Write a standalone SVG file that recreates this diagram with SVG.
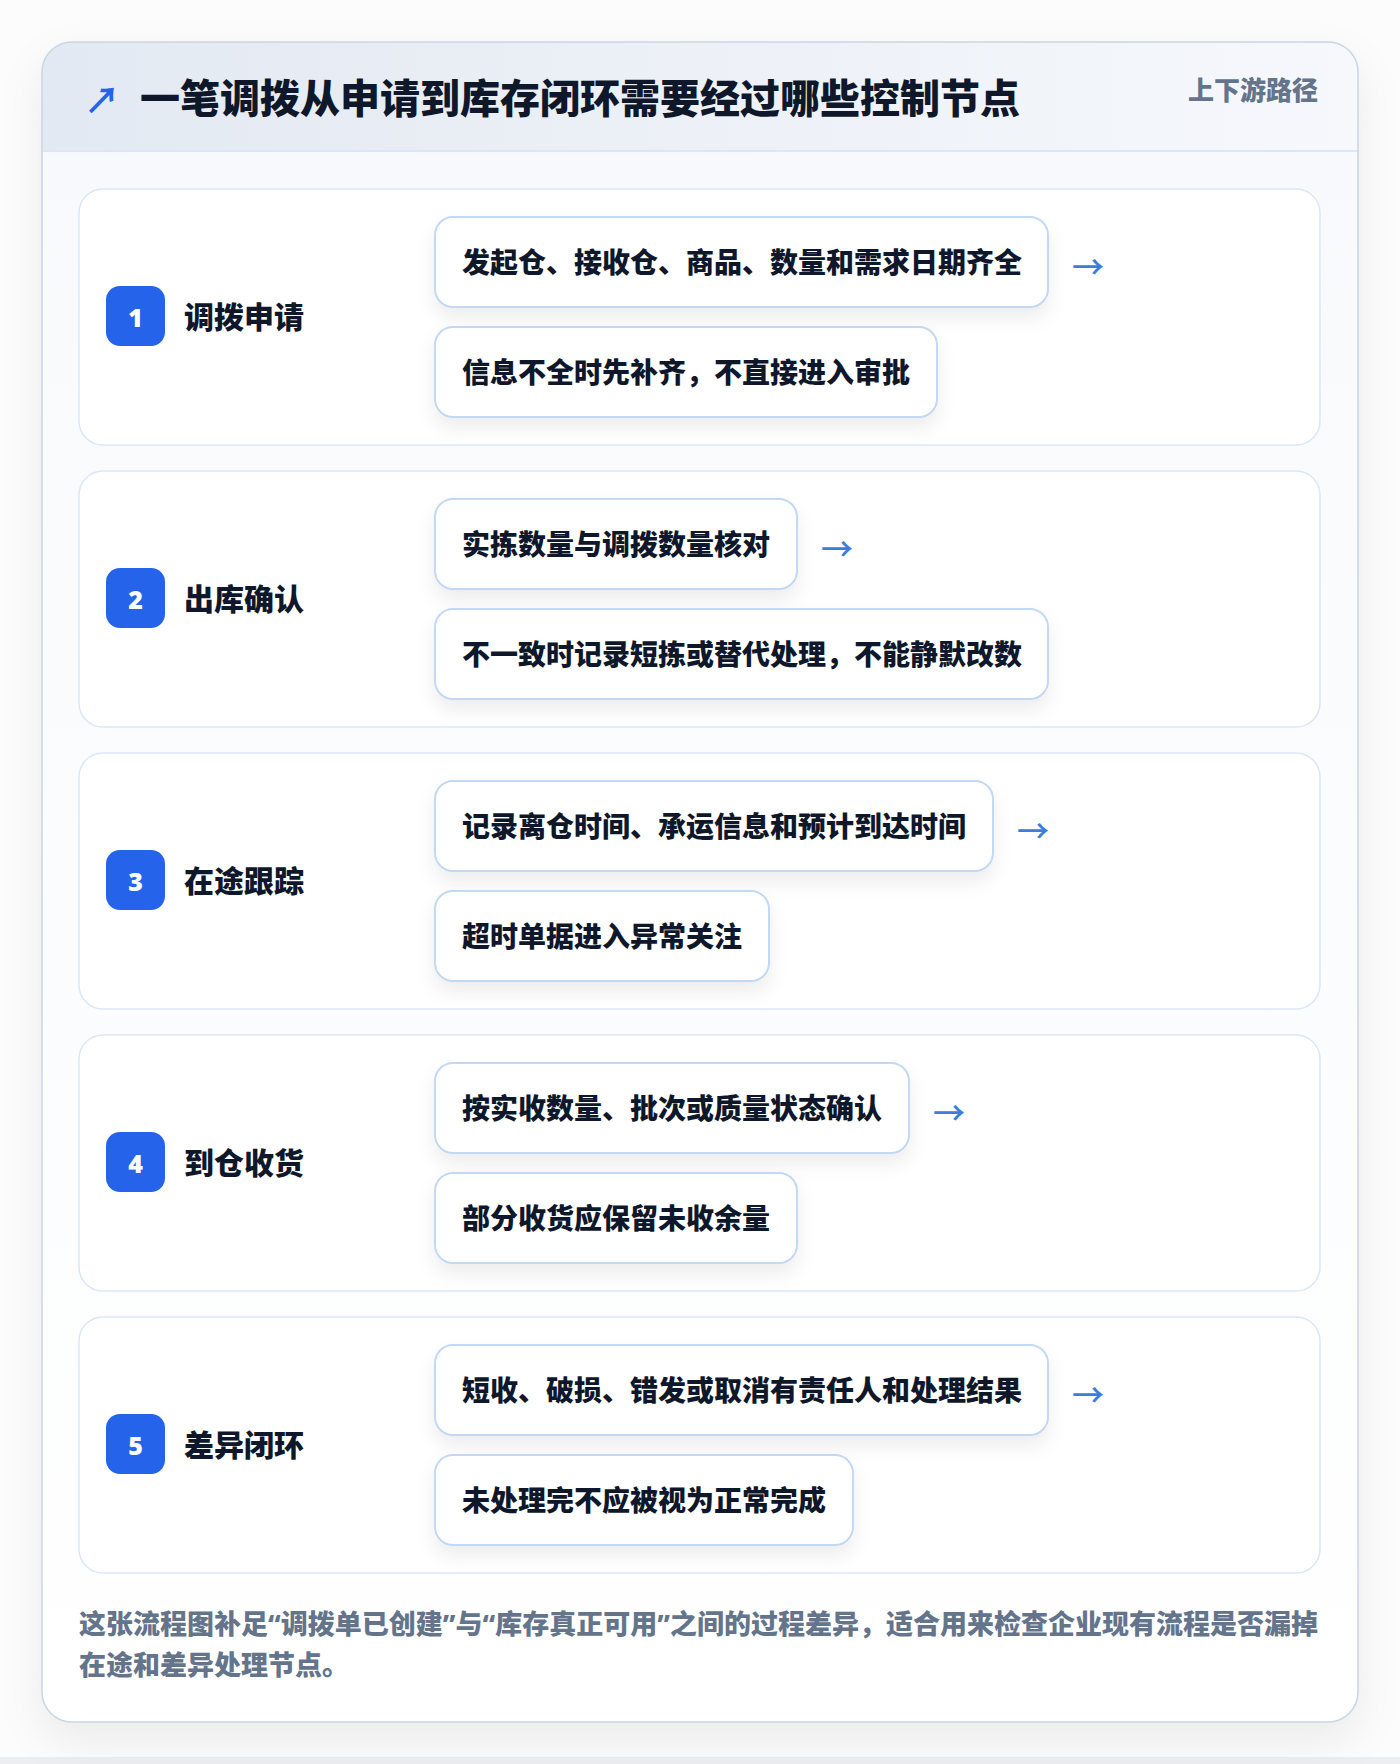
<svg xmlns="http://www.w3.org/2000/svg" width="1400" height="1764" viewBox="0 0 1400 1764">
<defs>
<linearGradient id="hdr" x1="0" y1="0" x2="1" y2="0">
<stop offset="0" stop-color="#e3e9f2"/>
<stop offset="1" stop-color="#f6f8fc"/>
</linearGradient>
<linearGradient id="body" x1="0" y1="0" x2="0" y2="1">
<stop offset="0" stop-color="#f7f9fc"/>
<stop offset="1" stop-color="#ffffff"/>
</linearGradient>
<filter id="cardShadow" x="-10%" y="-10%" width="120%" height="120%">
<feDropShadow dx="0" dy="18" stdDeviation="22" flood-color="#0f172a" flood-opacity="0.07"/>
</filter>
<filter id="subShadow" x="-10%" y="-30%" width="120%" height="170%">
<feDropShadow dx="0" dy="10" stdDeviation="9" flood-color="#0f172a" flood-opacity="0.07"/>
</filter>
<clipPath id="cardClip"><rect x="42" y="42" width="1316" height="1680" rx="30"/></clipPath>
<style>
.cjk{font-family:"Noto Sans CJK SC","Noto Sans",sans-serif;}
.title{font-size:40px;font-weight:900;fill:#0f172a;}
.tag{font-size:26px;font-weight:800;fill:#64748b;}
.step{fill:#ffffff;stroke:#dbe7f6;stroke-width:1.5;}
.badge{fill:#2563eb;}
.num{font-family:"Noto Sans","DejaVu Sans",sans-serif;font-size:25px;font-weight:900;fill:#ffffff;}
.label{font-size:30px;font-weight:800;fill:#0f172a;}
.sub{fill:#ffffff;stroke:#c2d8f4;stroke-width:2;}
.subtxt{font-size:28px;font-weight:800;fill:#0f172a;}
.arrow{font-family:"Noto Sans CJK SC",sans-serif;font-size:32px;font-weight:500;fill:#3b7ddd;}
.foot{font-family:"Noto Sans","Noto Sans CJK SC",sans-serif;font-size:27px;font-weight:800;fill:#64748b;}
</style>
</defs>
<rect x="0" y="0" width="1400" height="1764" fill="#fcfcfd"/>
<rect x="0" y="1757" width="1400" height="7" fill="#eceef1"/>
<g id="card">
<rect x="42" y="42" width="1316" height="1680" rx="30" fill="url(#body)" filter="url(#cardShadow)"/>
<g clip-path="url(#cardClip)">
<rect x="42" y="42" width="1316" height="109" fill="url(#hdr)"/>
<line x1="42" y1="151" x2="1358" y2="151" stroke="#dbe7f7" stroke-width="2"/>
</g>
<rect x="42" y="42" width="1316" height="1680" rx="30" fill="none" stroke="#cbd5e1" stroke-width="1.5"/>
</g>
<g id="header">
<text x="84" y="114" font-family="Noto Sans CJK SC,sans-serif" font-size="36" font-weight="700" fill="#2563eb">↗</text>
<text x="140" y="113" class="cjk title">一笔调拨从申请到库存闭环需要经过哪些控制节点</text>
<text x="1318" y="100" text-anchor="end" class="cjk tag">上下游路径</text>
</g>
<g id="step1">
<rect class="step" x="79" y="189" width="1241" height="256" rx="24"/>
<rect class="badge" x="106" y="286" width="59" height="60" rx="14"/>
<text class="num" x="135.5" y="327" text-anchor="middle">1</text>
<text class="cjk label" x="184" y="328">调拨申请</text>
<rect class="sub" x="435" y="217" width="613" height="90" rx="18" filter="url(#subShadow)"/>
<text class="cjk subtxt" x="462" y="273">发起仓、接收仓、商品、数量和需求日期齐全</text>
<text class="arrow" x="1072" y="279">→</text>
<rect class="sub" x="435" y="327" width="502" height="90" rx="18" filter="url(#subShadow)"/>
<text class="cjk subtxt" x="462" y="383">信息不全时先补齐，不直接进入审批</text>
</g>
<g id="step2">
<rect class="step" x="79" y="471" width="1241" height="256" rx="24"/>
<rect class="badge" x="106" y="568" width="59" height="60" rx="14"/>
<text class="num" x="135.5" y="609" text-anchor="middle">2</text>
<text class="cjk label" x="184" y="610">出库确认</text>
<rect class="sub" x="435" y="499" width="362" height="90" rx="18" filter="url(#subShadow)"/>
<text class="cjk subtxt" x="462" y="555">实拣数量与调拨数量核对</text>
<text class="arrow" x="821" y="561">→</text>
<rect class="sub" x="435" y="609" width="613" height="90" rx="18" filter="url(#subShadow)"/>
<text class="cjk subtxt" x="462" y="665">不一致时记录短拣或替代处理，不能静默改数</text>
</g>
<g id="step3">
<rect class="step" x="79" y="753" width="1241" height="256" rx="24"/>
<rect class="badge" x="106" y="850" width="59" height="60" rx="14"/>
<text class="num" x="135.5" y="891" text-anchor="middle">3</text>
<text class="cjk label" x="184" y="892">在途跟踪</text>
<rect class="sub" x="435" y="781" width="558" height="90" rx="18" filter="url(#subShadow)"/>
<text class="cjk subtxt" x="462" y="837">记录离仓时间、承运信息和预计到达时间</text>
<text class="arrow" x="1017" y="843">→</text>
<rect class="sub" x="435" y="891" width="334" height="90" rx="18" filter="url(#subShadow)"/>
<text class="cjk subtxt" x="462" y="947">超时单据进入异常关注</text>
</g>
<g id="step4">
<rect class="step" x="79" y="1035" width="1241" height="256" rx="24"/>
<rect class="badge" x="106" y="1132" width="59" height="60" rx="14"/>
<text class="num" x="135.5" y="1173" text-anchor="middle">4</text>
<text class="cjk label" x="184" y="1174">到仓收货</text>
<rect class="sub" x="435" y="1063" width="474" height="90" rx="18" filter="url(#subShadow)"/>
<text class="cjk subtxt" x="462" y="1119">按实收数量、批次或质量状态确认</text>
<text class="arrow" x="933" y="1125">→</text>
<rect class="sub" x="435" y="1173" width="362" height="90" rx="18" filter="url(#subShadow)"/>
<text class="cjk subtxt" x="462" y="1229">部分收货应保留未收余量</text>
</g>
<g id="step5">
<rect class="step" x="79" y="1317" width="1241" height="256" rx="24"/>
<rect class="badge" x="106" y="1414" width="59" height="60" rx="14"/>
<text class="num" x="135.5" y="1455" text-anchor="middle">5</text>
<text class="cjk label" x="184" y="1456">差异闭环</text>
<rect class="sub" x="435" y="1345" width="613" height="90" rx="18" filter="url(#subShadow)"/>
<text class="cjk subtxt" x="462" y="1401">短收、破损、错发或取消有责任人和处理结果</text>
<text class="arrow" x="1072" y="1407">→</text>
<rect class="sub" x="435" y="1455" width="418" height="90" rx="18" filter="url(#subShadow)"/>
<text class="cjk subtxt" x="462" y="1511">未处理完不应被视为正常完成</text>
</g>
<g id="connectors"></g>
<g id="footer">
<text class="foot" x="79" y="1634" textLength="1239" lengthAdjust="spacing">这张流程图补足“调拨单已创建”与“库存真正可用”之间的过程差异，适合用来检查企业现有流程是否漏掉</text>
<text class="foot" x="79" y="1675">在途和差异处理节点。</text>
</g>
</svg>
